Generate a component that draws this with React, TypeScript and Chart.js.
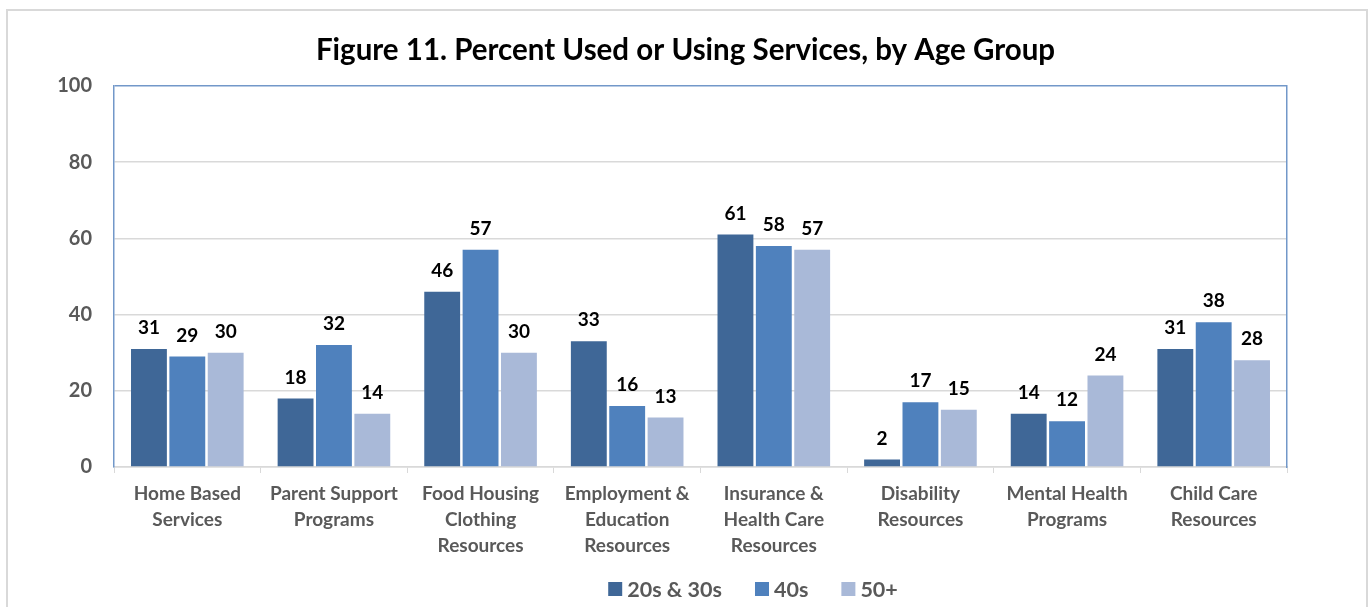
import React, { useEffect, useRef } from "react";
import { Chart, registerables } from "chart.js";

Chart.register(...registerables);

const categories: string[][] = [
  ["Home Based", "Services"],
  ["Parent Support", "Programs"],
  ["Food Housing", "Clothing", "Resources"],
  ["Employment &", "Education", "Resources"],
  ["Insurance &", "Health Care", "Resources"],
  ["Disability", "Resources"],
  ["Mental Health", "Programs"],
  ["Child Care", "Resources"],
];

const seriesNames = ["20s & 30s", "40s", "50+"];
const values20s30s = [31, 18, 46, 33, 61, 2, 14, 31];
const values40s = [29, 32, 57, 16, 58, 17, 12, 38];
const values50plus = [30, 14, 30, 13, 57, 15, 24, 28];
const seriesColors = ["#3F6797", "#4F81BD", "#A9B9D8"];

const yTicks = [0, 20, 40, 60, 80, 100];
const titleText = "Figure 11. Percent Used or Using Services, by Age Group";

const FONT = "Lato, 'Open Sans', sans-serif";
const BORDER_BLUE = "#7298C9";
const GRID = "#D9D9D9";
const AXIS_TEXT = "#595959";

const valueLabels = {
  id: "valueLabels",
  afterDatasetsDraw(chart: any) {
    const ctx = chart.ctx;
    ctx.save();
    ctx.font = "bold 19px Lato, 'Open Sans', sans-serif";
    ctx.fillStyle = "#000000";
    ctx.textAlign = "center";
    ctx.textBaseline = "middle";
    chart.data.datasets.forEach((ds: any, i: number) => {
      const meta = chart.getDatasetMeta(i);
      meta.data.forEach((bar: any, j: number) => {
        ctx.fillText(String(ds.data[j]), bar.x, bar.y - 21);
      });
    });
    ctx.restore();
  },
};

const customLegend = {
  id: "customLegend",
  afterDraw(chart: any) {
    const ctx = chart.ctx;
    const box = 14;
    const boxGap = 5;
    const itemGap = 33;
    const centerX = 753;
    const centerY = 589;
    ctx.save();
    ctx.font = "bold 21.5px Lato, 'Open Sans', sans-serif";
    const items = chart.data.datasets.map((ds: any) => ({
      text: ds.label,
      color: ds.backgroundColor,
      w: ctx.measureText(ds.label).width,
    }));
    const total =
      items.reduce((s: number, it: any) => s + box + boxGap + it.w, 0) +
      itemGap * (items.length - 1);
    let x = centerX - total / 2;
    ctx.textBaseline = "middle";
    ctx.textAlign = "left";
    items.forEach((it: any) => {
      ctx.fillStyle = it.color;
      ctx.fillRect(x, centerY - box / 2, box, box);
      x += box + boxGap;
      ctx.fillStyle = AXIS_TEXT;
      ctx.fillText(it.text, x, centerY + 1);
      x += it.w + itemGap;
    });
    ctx.restore();
  },
};

export default function App() {
  const canvasRef = useRef<HTMLCanvasElement | null>(null);

  useEffect(() => {
    if (!canvasRef.current) return;
    const seriesData = [values20s30s, values40s, values50plus];
    const chart = new Chart(canvasRef.current, {
      type: "bar",
      data: {
        labels: categories,
        datasets: seriesNames.map((name, i) => ({
          label: name,
          data: seriesData[i],
          backgroundColor: seriesColors[i],
          borderWidth: 0,
          categoryPercentage: 0.785,
          barPercentage: 0.935,
        })),
      },
      options: {
        responsive: false,
        animation: false,
        layout: { padding: { left: 0, right: 0, top: 20, bottom: 0 } },
        plugins: {
          title: {
            display: true,
            text: titleText,
            color: "#000000",
            font: { family: FONT, size: 29.5, weight: "bold", lineHeight: 1.2 },
            padding: { top: 13, bottom: 17.6 },
          },
          legend: { display: false },
          tooltip: { enabled: false },
        },
        scales: {
          x: {
            grid: {
              offset: true,
              drawOnChartArea: false,
              drawTicks: true,
              tickLength: 6,
              color: GRID,
            },
            border: { color: GRID, width: 1.5 },
            ticks: {
              color: AXIS_TEXT,
              padding: 8,
              maxRotation: 0,
              autoSkip: false,
              font: { family: FONT, size: 19, weight: "bold", lineHeight: 1.368 },
            },
            afterFit(scale: any) {
              scale.height = 140;
            },
          },
          y: {
            min: 0,
            max: 100,
            afterBuildTicks(scale: any) {
              scale.ticks = yTicks.map((v) => ({ value: v }));
            },
            grid: {
              drawTicks: false,
              color: (c: any) => (c.tick && c.tick.value === 100 ? BORDER_BLUE : GRID),
              lineWidth: 1.5,
            },
            border: { color: BORDER_BLUE, width: 1.5 },
            ticks: {
              color: AXIS_TEXT,
              padding: 22,
              font: { family: FONT, size: 20, weight: "bold" },
            },
            afterFit(scale: any) {
              scale.width = 114;
            },
          },
          yRight: {
            type: "linear",
            position: "right",
            min: 0,
            max: 100,
            grid: { drawOnChartArea: false, drawTicks: false },
            border: { color: BORDER_BLUE, width: 1.5 },
            ticks: { display: false },
            afterFit(scale: any) {
              scale.width = 84;
            },
          },
        },
      },
      plugins: [valueLabels, customLegend],
    });
    return () => chart.destroy();
  }, []);

  return (
    <div
      style={{
        position: "absolute",
        left: 0,
        top: 0,
        width: 1371,
        height: 607,
        overflow: "hidden",
        background: "#ffffff",
      }}
    >
      <div
        style={{
          position: "absolute",
          left: 6,
          top: 9,
          width: 1362,
          height: 700,
          boxSizing: "border-box",
          border: "2px solid #D9D9D9",
        }}
      />
      <canvas
        ref={canvasRef}
        width={1371}
        height={607}
        style={{ position: "absolute", left: 0, top: 0 }}
      />
    </div>
  );
}
